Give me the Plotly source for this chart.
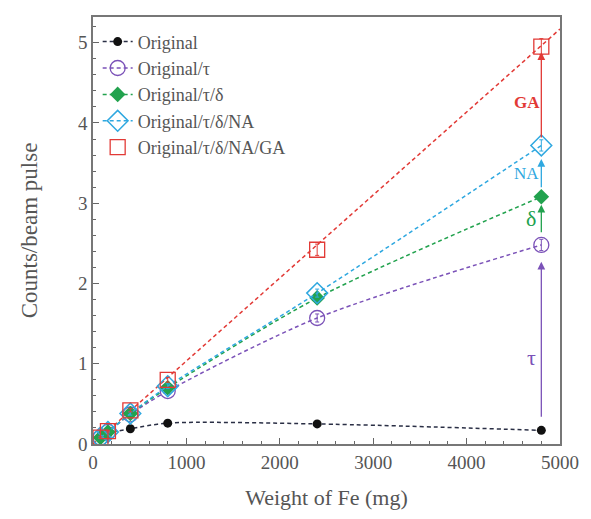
import plotly.graph_objects as go

weight = [80, 160, 400, 800, 2400, 4800]
original = [0.07, 0.13, 0.19, 0.26, 0.25, 0.17]
orig_tau = [0.08, 0.15, 0.37, 0.66, 1.57, 2.48]
orig_tau_delta = [0.08, 0.15, 0.38, 0.70, 1.82, 3.08]
orig_tau_delta_na = [0.08, 0.15, 0.38, 0.72, 1.88, 3.72]
orig_tau_delta_na_ga = [0.08, 0.16, 0.42, 0.80, 2.42, 4.95]
err_tau = [0.01, 0.01, 0.02, 0.03, 0.05, 0.07]
err_na = [0.01, 0.01, 0.02, 0.03, 0.05, 0.07]
err_ga = [0.01, 0.01, 0.02, 0.03, 0.07, 0.10]
fit_x = [0, 5000]
fit_y = [0, 5.17]

arrow_x = 4800
arrows = [
    # (from_y, to_y, label, label_x, label_y, color, size, bold)
    (0.32, 2.27, "τ", 4690, 1.08, "#7B52B8", 22, False),
    (2.62, 2.98, "δ", 4690, 2.81, "#22A24E", 22, False),
    (3.18, 3.55, "NA", 4640, 3.37, "#2FA8E0", 17, False),
    (3.80, 4.88, "GA", 4650, 4.25, "#E23A36", 17, True),
]

C_BLACK = "#111111"
C_PURPLE = "#7B52B8"
C_GREEN = "#22A24E"
C_CYAN = "#2FA8E0"
C_RED = "#E23A36"
DASH = "4px,3px"

font_family = "Liberation Serif, Times New Roman, serif"

fig = go.Figure()

fig.add_trace(go.Scatter(
    x=fit_x, y=fit_y, mode="lines", showlegend=False,
    line=dict(color=C_RED, dash=DASH, width=1.5), hoverinfo="skip"))

fig.add_trace(go.Scatter(
    x=weight, y=original, name="Original", mode="lines+markers",
    line=dict(color="#2A2F45", dash=DASH, width=1.5, shape="spline", smoothing=0.8),
    marker=dict(symbol="circle", size=9, color=C_BLACK)))

fig.add_trace(go.Scatter(
    x=weight, y=orig_tau, name="Original/τ", mode="lines+markers",
    line=dict(color=C_PURPLE, dash=DASH, width=1.5, shape="spline", smoothing=0.8),
    marker=dict(symbol="circle-open", size=15, color=C_PURPLE, line=dict(width=1.3)),
    error_y=dict(type="data", array=err_tau, color=C_PURPLE, thickness=1, width=2)))

fig.add_trace(go.Scatter(
    x=weight, y=orig_tau_delta, name="Original/τ/δ", mode="lines+markers",
    line=dict(color=C_GREEN, dash=DASH, width=1.5, shape="spline", smoothing=0.8),
    marker=dict(symbol="diamond", size=12, color=C_GREEN)))

fig.add_trace(go.Scatter(
    x=weight, y=orig_tau_delta_na, name="Original/τ/δ/NA", mode="lines+markers",
    line=dict(color=C_CYAN, dash=DASH, width=1.5, shape="spline", smoothing=0.8),
    marker=dict(symbol="diamond-open", size=16, color=C_CYAN, line=dict(width=1.5)),
    error_y=dict(type="data", array=err_na, color=C_CYAN, thickness=1, width=2)))

fig.add_trace(go.Scatter(
    x=weight, y=orig_tau_delta_na_ga, name="Original/τ/δ/NA/GA", mode="markers",
    marker=dict(symbol="square-open", size=15, color=C_RED, line=dict(width=1.3)),
    error_y=dict(type="data", array=err_ga, color=C_RED, thickness=1, width=2)))

annotations = []
for y0, y1, label, lx, ly, col, sz, bold in arrows:
    annotations.append(dict(
        x=arrow_x, y=y1, ax=arrow_x, ay=y0, xref="x", yref="y", axref="x", ayref="y",
        showarrow=True, arrowhead=2, arrowsize=1.2, arrowwidth=1.3, arrowcolor=col, text=""))
    annotations.append(dict(
        x=lx, y=ly, xref="x", yref="y", text=f"<b>{label}</b>" if bold else label,
        showarrow=False, font=dict(family=font_family, size=sz, color=col)))

fig.update_layout(
    width=591, height=519,
    margin=dict(l=93, r=20, t=17, b=75),
    paper_bgcolor="white", plot_bgcolor="white",
    font=dict(family=font_family, size=19, color="#555555"),
    showlegend=True,
    legend=dict(x=0.01, y=0.985, xanchor="left", yanchor="top",
                bgcolor="rgba(0,0,0,0)", font=dict(size=18, color="#555555"),
                tracegroupgap=0, itemwidth=30),
    annotations=annotations,
    xaxis=dict(range=[0, 5000], tickvals=[0, 1000, 2000, 3000, 4000, 5000],
               ticks="inside", ticklen=6, tickcolor="#666", tickwidth=1,
               minor=dict(dtick=200, ticks="inside", ticklen=3, tickcolor="#666"),
               showline=True, linecolor="#777", linewidth=1.5, mirror=True,
               showgrid=False, zeroline=False,
               title=dict(text="Weight of Fe (mg)", font=dict(size=22), standoff=18)),
    yaxis=dict(range=[0, 5.32], tickvals=[0, 1, 2, 3, 4, 5],
               ticks="inside", ticklen=6, tickcolor="#666", tickwidth=1,
               minor=dict(dtick=0.2, ticks="inside", ticklen=3, tickcolor="#666"),
               showline=True, linecolor="#777", linewidth=1.5, mirror=True,
               showgrid=False, zeroline=False,
               title=dict(text="Counts/beam pulse", font=dict(size=23), standoff=34)),
)

fig.write_html("out.html")
